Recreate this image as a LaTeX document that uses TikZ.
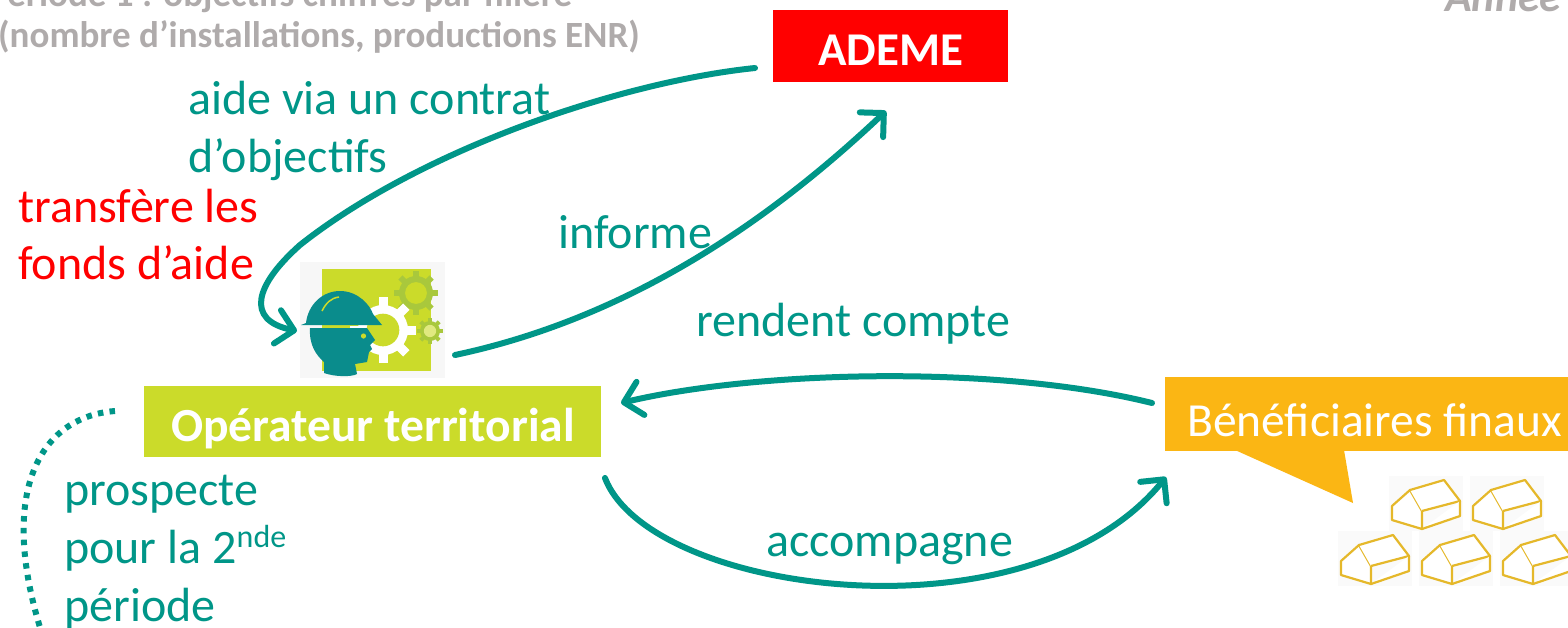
\documentclass[tikz,border=0pt]{standalone}
\usepackage{fontspec}
\setmainfont{Carlito}
\usetikzlibrary{arrows.meta}
\definecolor{teal1}{HTML}{009688}
\definecolor{teal2}{HTML}{0A8C8C}
\definecolor{lime1}{HTML}{CBDB2A}
\definecolor{orange1}{HTML}{FBB614}
\definecolor{gray1}{HTML}{AFABAB}
\definecolor{olive1}{HTML}{A9C83C}
\definecolor{gold1}{HTML}{E5B82A}
\tikzset{
  lab/.style={anchor=base west,inner sep=0pt,text=teal1,font=\fontsize{48}{48}\selectfont},
  redlab/.style={lab,text=red},
  graytxt/.style={anchor=base west,inner sep=0pt,text=gray1,font=\fontsize{37}{37}\selectfont\bfseries},
  flow/.style={draw=teal1,line width=6pt,line cap=round,-{Straight Barb[length=17pt,width=34pt,line width=6pt,round]}},
  dots/.style={draw=teal1,line width=6pt,dash pattern=on 5.5pt off 6.3pt},
  box/.style={inner sep=0pt,anchor=center},
  houseln/.style={draw=gold1,line width=2.2pt,line join=round,fill=white}
}
\newcommand{\mygear}[6]{% x y r tooth colour holecolour
  \foreach \a in {0,45,...,315}{
    \fill[#5] (#1,#2) ++(\a:#3) ++(\a+90:#4*0.5) -- ++(\a:#4) -- ++(\a+90:-#4) -- ++(\a:-#4) -- cycle;
  }
  \fill[#5] (#1,#2) circle[radius=#3+1];
  \fill[#6] (#1,#2) circle[radius=#3*0.68];
}
\newcommand{\myhouse}[2]{%
  \fill[white!98!black] (#1-3,#2-53) rectangle (#1+71,#2+2);
  \draw[houseln] (#1,#2-23) -- (#1+18,#2-39) -- (#1+30,#2-18) -- (#1+30,#2) -- (#1,#2-9) -- cycle;
  \draw[houseln] (#1+18,#2-39) -- (#1+52,#2-49) -- (#1+68,#2-28) -- (#1+30,#2-18);
  \draw[houseln] (#1+68,#2-28) -- (#1+68,#2-13) -- (#1+30,#2);
}
\begin{document}
\begin{tikzpicture}[x=1pt,y=-1pt]
\useasboundingbox (0,0) rectangle (1568,627);
\clip (0,0) rectangle (1568,627);
\fill[white] (0,0) rectangle (1568,627);

% grey cropped headings
\node[graytxt] (h1) at (-12,6) {Période 1 : objectifs chiffrés par filière};
\node[graytxt] (h2) at (-2,47) {(nombre d’installations, productions ENR)};
\node[graytxt,font=\fontsize{44}{44}\selectfont\bfseries\itshape] (h3) at (1445,11) {Année};

% boxes
\node[box,fill=red,minimum width=235pt,minimum height=72pt] (ademe) at (890.5,46) {};
\node[anchor=base,inner sep=0pt,text=white,font=\fontsize{47}{47}\selectfont\bfseries] (ademet) at (891,65) {ADEME};
\node[box,fill=lime1,minimum width=457pt,minimum height=71pt] (oper) at (372.5,421.5) {};
\node[anchor=base,inner sep=0pt,text=white,font=\fontsize{47.5}{48}\selectfont\bfseries] (opert) at (373,441) {Opérateur territorial};
\fill[orange1] (1235,450) -- (1353,503) -- (1344,450) -- cycle;
\node[box,fill=orange1,minimum width=403pt,minimum height=74pt] (benef) at (1366.5,414) {};
\node[anchor=base west,inner sep=0pt,text=white,font=\fontsize{47.5}{48}\selectfont] (beneft) at (1187,436) {Bénéficiaires finaux};

% icon
\node[inner sep=0pt,minimum width=145pt,minimum height=116pt,fill=white!97!black] (icon) at (372.5,320) {};
\fill[lime1] (322,269) rectangle (431,371);
\mygear{416}{293}{16}{6}{olive1}{lime1}
\mygear{430}{331}{9}{4}{olive1}{lime1!60!white}
\mygear{383}{330}{24}{9}{white}{lime1}
% head and helmet
\fill[teal2] (310,328) .. controls (309,345) and (316,355) .. (324,362)
  -- (324,373) .. controls (335,377) and (352,377) .. (357,374)
  -- (355,364) -- (367,362) -- (369,352) -- (372,349) -- (370,345) -- (375,340)
  -- (367,328) -- cycle;
\fill[lime1] (363.5,336) circle[radius=2.6];
\fill[teal2] (301,325) -- (306,323) .. controls (308,305) and (322,291) .. (340,291)
  .. controls (358,291) and (370,305) .. (373,314) -- (382,325) -- cycle;
\draw[lime1,line width=1.5pt] (322,311) .. controls (326,303) and (331,298) .. (339,297);

% house images
\myhouse{1392}{529}
\myhouse{1473}{529}
\myhouse{1341}{584}
\myhouse{1422}{584}
\myhouse{1503}{584}

% labels
\node[lab] (l1) at (188,114) {aide via un contrat};
\node[lab] (l2) at (188,172) {d’objectifs};
\node[redlab] (l3) at (18,222) {transfère les};
\node[redlab] (l4) at (18,279) {fonds d’aide};
\node[lab] (l5) at (558,248) {informe};
\node[lab] (l6) at (696,336) {rendent compte};
\node[lab] (l7) at (766,556) {accompagne};
\node[lab] (l8) at (64,505) {prospecte};
\node[lab] (l9) at (64,563) {pour la 2\raisebox{16pt}{\fontsize{32}{32}\selectfont nde}};
\node[lab] (l10) at (64,621) {période};

% connectors
\coordinate (a1) at (755,68);
\coordinate (a2) at (297,331);
\coordinate (b1) at (455,355);
\coordinate (b2) at (886,111);
\coordinate (c1) at (1152,403);
\coordinate (c2) at (621,403);
\coordinate (d1) at (605,478);
\coordinate (d2) at (1166,477);
\coordinate (e1) at (115,411);
\coordinate (e2) at (44,640);
\draw[flow] (a1) .. controls (620,82) and (420,150) .. (300,245)
  .. controls (255,285) and (245,320) .. (a2);
\draw[flow] (b1) .. controls (620,320) and (760,230) .. (b2);
\draw[flow] (c1) .. controls (1000,365) and (760,370) .. (c2);
\draw[flow] (d1) .. controls (650,595) and (1030,645) .. (d2);
\draw[dots] (e1) .. controls (38,417) and (-4,495) .. (e2);
\end{tikzpicture}
\end{document}
